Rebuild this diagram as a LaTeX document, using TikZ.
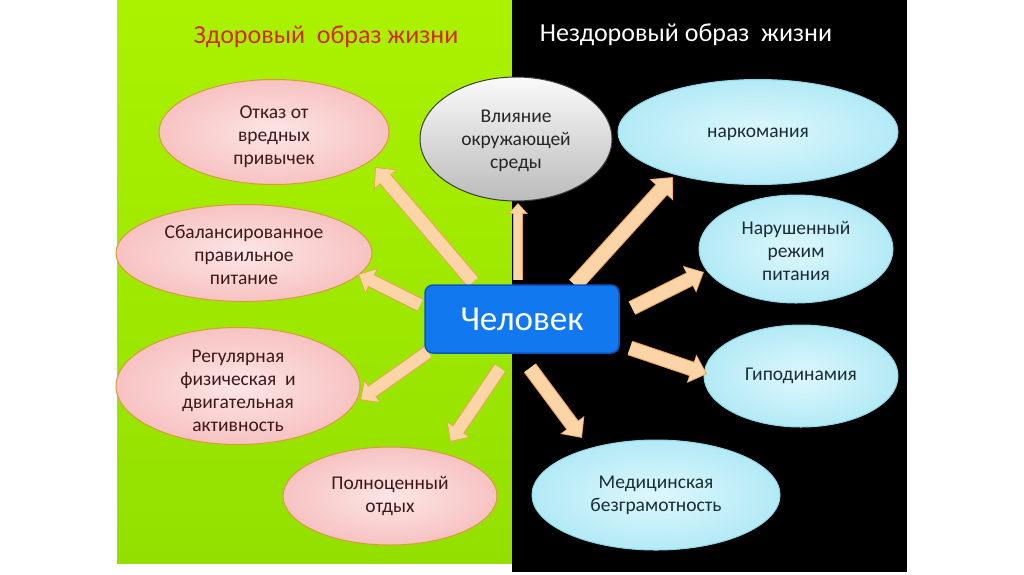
\documentclass[tikz,border=0pt]{standalone}
\usepackage{fontspec}
\setmainfont{Carlito}
\usetikzlibrary{arrows.meta,shapes.geometric,calc}
\definecolor{limetop}{HTML}{ABF200}
\definecolor{limebot}{HTML}{93E000}
\definecolor{pinkin}{HTML}{FDE6E6}
\definecolor{pinkout}{HTML}{F7C2C2}
\definecolor{pinkbd}{HTML}{E0983C}
\definecolor{pinktxt}{HTML}{3E1818}
\definecolor{greytop}{HTML}{FAFAFA}
\definecolor{greybot}{HTML}{BBBBBB}
\definecolor{greybd}{HTML}{3C3C3C}
\definecolor{cyanin}{HTML}{DDF7FC}
\definecolor{cyanout}{HTML}{B3EAF6}
\definecolor{cyanbd}{HTML}{8FD6E8}
\definecolor{cyantxt}{HTML}{1A2C34}
\definecolor{boxfill}{HTML}{1278F0}
\definecolor{boxbd}{HTML}{0A55C0}
\definecolor{arrfill}{HTML}{FBD4A8}
\definecolor{arrbd}{HTML}{EFA050}
\definecolor{titlered}{HTML}{D42A1E}
\tikzset{
  ell/.style={ellipse, inner sep=0pt, line width=1pt},
  pinkell/.style={ell, draw=pinkbd, inner color=pinkin, outer color=pinkout},
  greyell/.style={ell, draw=greybd, top color=greytop, bottom color=greybot},
  cyanell/.style={ell, draw=cyanbd, inner color=cyanin, outer color=cyanout},
  etxt/.style={align=center, font=\fontsize{19.5}{23}\selectfont, inner sep=0pt},
  pinktext/.style={etxt, text=pinktxt},
  greytext/.style={etxt, text=black!85},
  cyantext/.style={etxt, text=cyantxt},
  titletext/.style={font=\fontsize{26}{30}\selectfont, inner sep=0pt},
  manbox/.style={rectangle, rounded corners=8pt, fill=boxfill, draw=boxbd, line width=1.5pt,
    text=white, font=\fontsize{35}{40}\selectfont, minimum width=194pt, minimum height=68pt}
}
\begin{document}
\begin{tikzpicture}[x=1pt,y=-1pt]
\useasboundingbox (0,0) rectangle (1024,574);
\fill[white] (0,0) rectangle (1024,574);
\shade[top color=limetop, bottom color=limebot] (117,0) rectangle (512,563);
\fill[black] (512,0) rectangle (907,572);

\node[titletext, text=titlered] (tl) at (326,37) {Здоровый\ \ образ жизни};
\node[titletext, text=white] (tr) at (686,35) {Нездоровый образ\ \ жизни};

% ellipses
\node[pinkell, minimum width=230pt, minimum height=105pt] (e1) at (274,132) {};
\node[greyell, minimum width=192pt, minimum height=124pt] (e2) at (516,139) {};
\node[cyanell, minimum width=280pt, minimum height=105pt] (e3) at (758,132) {};
\node[pinkell, minimum width=256pt, minimum height=97pt] (e4) at (244,253) {};
\node[pinkell, minimum width=244pt, minimum height=117pt] (e5) at (238,386) {};
\node[pinkell, minimum width=214pt, minimum height=98pt] (e6) at (390,496) {};
\node[cyanell, minimum width=194pt, minimum height=108pt] (e7) at (796,249) {};
\node[cyanell, minimum width=194pt, minimum height=102pt] (e8) at (801,376) {};
\node[cyanell, minimum width=248pt, minimum height=110pt] (e9) at (656,495) {};

\node[pinktext] (x1) at ($(e1)+(0,5)$) {Отказ от\\вредных\\привычек};
\node[greytext] (x2) at ($(e2)+(0,2)$) {Влияние\\окружающей\\среды};
\node[cyantext] (x3) at ($(e3)+(0,2)$) {наркомания};
\node[pinktext] (x4) at ($(e4)+(0,2)$) {Сбалансированное\\правильное\\питание};
\node[pinktext] (x5) at ($(e5)+(0,5)$) {Регулярная\\физическая\ \ и\\двигательная\\активность};
\node[pinktext] (x6) at ($(e6)+(0,0)$) {Полноценный\\отдых};
\node[cyantext] (x7) at ($(e7)+(0,2)$) {Нарушенный\\режим\\питания};
\node[cyantext] (x8) at (e8) {Гиподинамия};
\node[cyantext] (x9) at ($(e9)+(0,0)$) {Медицинская\\безграмотность};

% arrow ends
\coordinate (t1) at (473,282); \coordinate (h1) at (375,167);
\coordinate (t2) at (518,280); \coordinate (h2) at (518,203);
\coordinate (t3) at (420,305); \coordinate (h3) at (358,274);
\coordinate (t4) at (428,352); \coordinate (h4) at (360,400);
\coordinate (t5) at (500,368); \coordinate (h5) at (450,442);
\coordinate (t6) at (575,285); \coordinate (h6) at (673,177);
\coordinate (t7) at (632,308); \coordinate (h7) at (704,272);
\coordinate (t8) at (630,348); \coordinate (h8) at (707,374);
\coordinate (t9) at (530,368); \coordinate (h9) at (582,438);

\foreach \t/\h/\w in {t1/h1/13, t2/h2/8, t3/h3/12, t4/h4/12, t5/h5/12, t6/h6/14, t7/h7/13, t8/h8/13, t9/h9/13}{
  \pgfmathsetmacro\wo{\w+2}
  \pgfmathsetmacro\hw{2*\w}
  \pgfmathsetmacro\hwo{2*\w+3}
  \pgfmathsetmacro\hl{1.1*\w}
  \pgfmathsetmacro\hlo{1.1*\w+2}
  \draw[line width=\wo pt, draw=arrbd, -{Triangle[width=\hwo pt,length=\hlo pt]}] (\t) -- (\h);
  \draw[line width=\w pt, draw=arrfill, shorten >=1.3pt, -{Triangle[width=\hw pt,length=\hl pt]}] (\t) -- (\h);
}

\node[manbox] (c) at (522,319) {Человек};
\end{tikzpicture}
\end{document}
